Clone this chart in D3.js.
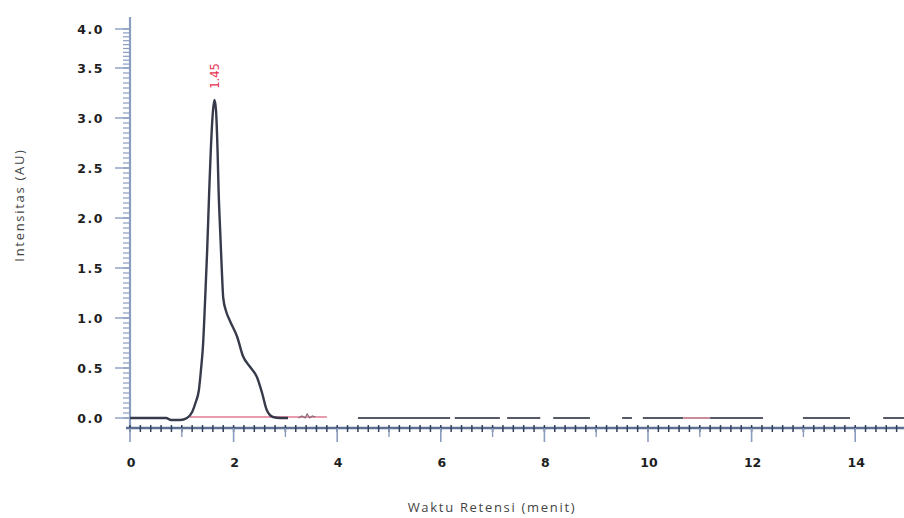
<!DOCTYPE html>
<html><head><meta charset="utf-8">
<script src="https://cdn.jsdelivr.net/npm/d3@7"></script>
<style>body{margin:0;background:#fff}svg{display:block}</style>
</head><body><svg id="c" width="904" height="518"></svg>
<script>
// Chromatogram trace (time in min, intensity in AU)
const traceTime = [0,0.70,0.79,0.97,1.10,1.20,1.27,1.33,1.37,1.41,1.45,1.49,1.53,1.56,1.60,1.63,1.66,1.69,1.71,1.74,1.77,1.80,1.86,1.93,2.07,2.18,2.32,2.45,2.55,2.64,2.76,2.90,3.05];
const traceAU   = [0,0.00,-0.02,-0.02,0.00,0.06,0.16,0.28,0.48,0.73,1.18,1.68,2.28,2.68,3.06,3.18,3.08,2.68,2.28,1.88,1.51,1.20,1.06,0.97,0.81,0.62,0.51,0.41,0.25,0.08,0.01,0.00,0.00];
// small squiggle after the peak
const squiggleTime = [3.25,3.32,3.38,3.42,3.47,3.52,3.58];
const squiggleAU   = [0.00,0.02,0.00,0.04,0.00,0.02,0.01];
// red integration baseline
const redBaseTime = [1.15,3.80];
const redBaseAU   = [0.01,0.01];
// dashed baseline segments [start,end] in minutes
const baseSegments = [[4.40,6.18],[6.27,7.14],[7.28,7.92],[8.17,8.88],[9.50,9.69],[9.90,10.68],[10.68,11.20],[11.20,12.22],[12.99,13.90],[14.54,15]];
const baseSegRed   = [false,false,false,false,false,false,true,false,false,false];
const yTicks = [0,0.5,1.0,1.5,2.0,2.5,3.0,3.5,4.0];
const xTicks = [0,2,4,6,8,10,12,14];
const peakLabel = {time:1.63, au:3.18, text:"1.45"};

const svg = d3.select("#c");
const x = d3.scaleLinear().domain([0,15]).range([130,907]);
const y = d3.scaleLinear().domain([0,3.5,4.0]).range([418,68,29]);
const axisCol = "#5d6f92";

// Y axis
svg.append("line").attr("x1",130).attr("x2",130).attr("y1",17).attr("y2",429)
  .attr("stroke","#8a9cc0").attr("stroke-width",2.2);
const yMinor = d3.range(0,4.0001,0.05);
svg.append("g").selectAll("line").data(yMinor).join("line")
  .attr("x1",123).attr("x2",130).attr("y1",d=>y(d)).attr("y2",d=>y(d))
  .attr("stroke","#8a9cc0").attr("stroke-width",1.2);
svg.append("g").selectAll("line").data(yTicks).join("line")
  .attr("x1",115).attr("x2",130).attr("y1",d=>y(d)).attr("y2",d=>y(d))
  .attr("stroke","#8a9cc0").attr("stroke-width",1.4);
svg.append("g").selectAll("text").data(yTicks).join("text")
  .attr("x",104).attr("y",d=>y(d)).attr("dy","0.36em").attr("text-anchor","end")
  .attr("font-family","DejaVu Sans").attr("font-weight","bold").attr("font-size",12.5)
  .attr("letter-spacing",1.5).attr("fill","#1e1e1e").text(d=>d.toFixed(1));

// X axis
svg.append("line").attr("x1",126).attr("x2",904).attr("y1",428).attr("y2",428)
  .attr("stroke",axisCol).attr("stroke-width",2.4);
const xMinor = d3.range(0,15.01,0.2);
svg.append("g").selectAll("line").data(xMinor).join("line")
  .attr("x1",d=>x(d)).attr("x2",d=>x(d)).attr("y1",425).attr("y2",432)
  .attr("stroke","#33405a").attr("stroke-width",1.5);
svg.append("g").selectAll("line").data(d3.range(1,15,2)).join("line")
  .attr("x1",d=>x(d)).attr("x2",d=>x(d)).attr("y1",428).attr("y2",437)
  .attr("stroke","#8a9cc0").attr("stroke-width",1.4);
svg.append("g").selectAll("line").data(xTicks).join("line")
  .attr("x1",d=>x(d)).attr("x2",d=>x(d)).attr("y1",428).attr("y2",442)
  .attr("stroke","#8a9cc0").attr("stroke-width",1.6);
svg.append("g").selectAll("text").data(xTicks).join("text")
  .attr("x",d=>x(d)+1).attr("y",462).attr("dy","0.36em").attr("text-anchor","middle")
  .attr("font-family","DejaVu Sans").attr("font-weight","bold").attr("font-size",12.5)
  .attr("fill","#1e1e1e").text(d=>d);

// titles
svg.append("text").attr("x",492).attr("y",512).attr("text-anchor","middle")
  .attr("font-family","Open Sans").attr("font-size",13).attr("letter-spacing",1.7)
  .attr("fill","#444").text("Waktu Retensi (menit)");
svg.append("text").attr("transform","translate(24,205) rotate(-90)").attr("text-anchor","middle")
  .attr("font-family","Open Sans").attr("font-size",13).attr("letter-spacing",1.7)
  .attr("fill","#444").text("Intensitas (AU)");

const line = d3.line().x(d=>x(d[0])).y(d=>y(d[1]));

// red baseline
svg.append("path").datum(redBaseTime.map((t,i)=>[t,redBaseAU[i]]))
  .attr("d",line).attr("fill","none").attr("stroke","#e07a90").attr("stroke-width",1.3);

// trace
svg.append("path").datum(traceTime.map((t,i)=>[t,traceAU[i]]))
  .attr("d",d3.line().x(d=>x(d[0])).y(d=>y(d[1])).curve(d3.curveMonotoneX))
  .attr("fill","none").attr("stroke","#363a4a").attr("stroke-width",2.4).attr("stroke-linejoin","round");
svg.append("path").datum(squiggleTime.map((t,i)=>[t,squiggleAU[i]]))
  .attr("d",line).attr("fill","none").attr("stroke","#8a6a78").attr("stroke-width",1.2);

// dashed baseline
svg.append("g").selectAll("line").data(baseSegments).join("line")
  .attr("x1",d=>x(d[0])).attr("x2",d=>x(d[1])).attr("y1",y(0)).attr("y2",y(0))
  .attr("stroke",(d,i)=>baseSegRed[i]?"#c98a9a":"#555a66").attr("stroke-width",2);

// peak label
svg.append("text").attr("transform",`translate(${x(peakLabel.time)+5},${y(peakLabel.au)-24}) rotate(-90)`)
  .attr("text-anchor","middle").attr("font-family","DejaVu Sans").attr("font-size",11.5)
  .attr("fill","#e8334f").text(peakLabel.text);
</script></body></html>
